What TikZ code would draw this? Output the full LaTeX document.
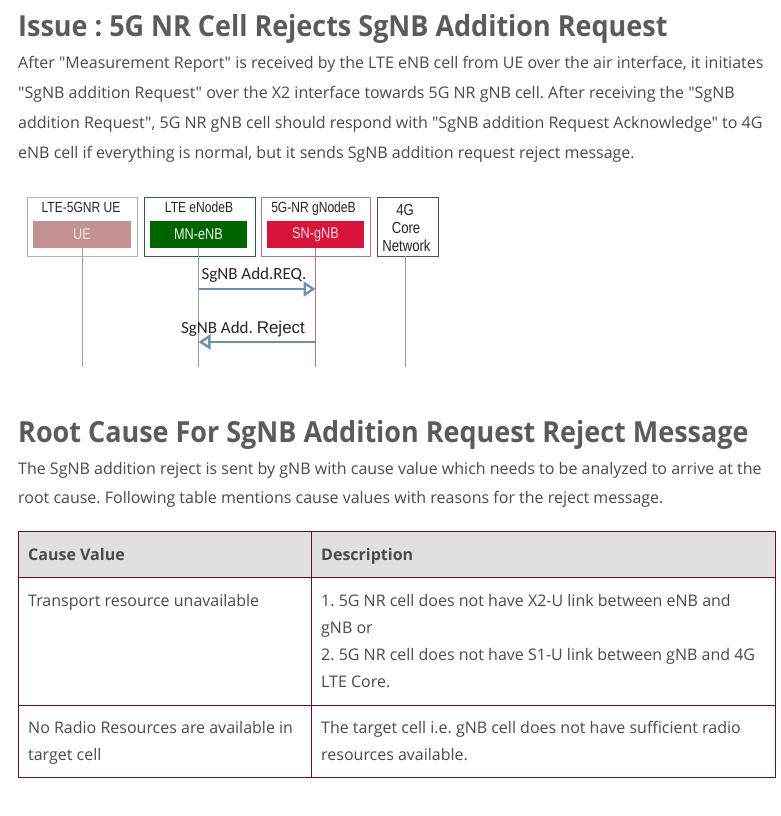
\documentclass[tikz,border=0pt]{standalone}
\usepackage{fontspec}
\setmainfont{Open Sans}
\newfontfamily\osans{Open Sans}
\newfontfamily\osanshead[FakeStretch=0.93]{Open Sans}
\newfontfamily\diafont[FakeStretch=0.82]{Liberation Sans}
\newfontfamily\calib{Carlito}
\newfontfamily\arialf{Liberation Sans}
\usetikzlibrary{arrows.meta}
\frenchspacing
\definecolor{txt}{HTML}{4A4A4A}
\definecolor{head}{HTML}{5B5B5B}
\definecolor{tborder}{HTML}{660A36}
\definecolor{thead}{HTML}{E0E0E0}
\definecolor{uefill}{HTML}{C49191}
\definecolor{enbfill}{HTML}{006400}
\definecolor{gnbfill}{HTML}{D8143C}
\definecolor{uebord}{HTML}{B4B4B4}
\definecolor{enbbord}{HTML}{2F5E3E}
\definecolor{gnbbord}{HTML}{C07080}
\definecolor{corebord}{HTML}{505050}
\definecolor{msg}{HTML}{6F8FAF}
\definecolor{enbline}{HTML}{80A8A0}
\definecolor{gnbline}{HTML}{D07080}
\begin{document}
\begin{tikzpicture}[x=1pt,y=-1pt,
  heading/.style={anchor=base west, inner sep=0pt, font=\osanshead\fontsize{29}{34}\bfseries\selectfont, text=head},
  body/.style={anchor=base west, inner sep=0pt, font=\osans\fontsize{16}{19}\selectfont, text=txt},
  thtext/.style={anchor=base west, inner sep=0pt, font=\osans\fontsize{16}{19}\bfseries\selectfont, text=txt},
  outerbox/.style={draw, line width=1pt, inner sep=0pt},
  innerbox/.style={inner sep=0pt, font=\diafont\fontsize{15.5}{17}\selectfont},
  boxtitle/.style={anchor=base, inner sep=0pt, font=\diafont\fontsize{14.7}{16}\selectfont, text=black!85},
  coretitle/.style={anchor=base, inner sep=0pt, font=\diafont\fontsize{16}{18}\selectfont, text=black!85},
  life/.style={line width=1pt},
  msgarrow/.style={draw=msg, line width=2.4pt, -{Triangle[open, length=12pt, width=15pt]}},
  msglabel/.style={anchor=base, inner sep=0pt, text=black!85}
]
\useasboundingbox (0,0) rectangle (780,816);
\fill[white] (0,0) rectangle (780,816);

% ---- Headings and paragraphs
\node[heading] (h1) at (18,37) {Issue : 5G NR Cell Rejects SgNB Addition Request};
\node[body] (p1) at (18,68) {After "Measurement Report" is received by the LTE eNB cell from UE over the air interface, it initiates};
\node[body] (p2) at (18,98) {"SgNB addition Request" over the X2 interface towards 5G NR gNB cell. After receiving the "SgNB};
\node[body] (p3) at (18,128) {addition Request", 5G NR gNB cell should respond with "SgNB addition Request Acknowledge" to 4G};
\node[body] (p4) at (18,158) {eNB cell if everything is normal, but it sends SgNB addition request reject message.};

% ---- Diagram
\node[outerbox, draw=uebord, minimum width=110pt, minimum height=59pt] (uebox) at (82,226.5) {};
\node[outerbox, draw=enbbord, minimum width=111pt, minimum height=59pt] (enbbox) at (199.5,226.5) {};
\node[outerbox, draw=gnbbord, minimum width=109pt, minimum height=59pt] (gnbbox) at (315.5,226.5) {};
\node[outerbox, draw=corebord, minimum width=61pt, minimum height=59pt] (corebox) at (407.5,226.5) {};

\node[innerbox, fill=uefill, text=uefill!25, minimum width=98pt, minimum height=27pt] (ue) at (82,234.5) {UE};
\node[innerbox, fill=enbfill, text=green!8, minimum width=97pt, minimum height=27pt] (enb) at (198.5,234.5) {MN-eNB};
\node[innerbox, fill=gnbfill, text=gnbfill!15, minimum width=97pt, minimum height=27pt] (gnb) at (315.5,234.5) {SN-gNB};

\node[boxtitle] (uet) at (81,212) {LTE-5GNR UE};
\node[boxtitle] (enbt) at (199,212) {LTE eNodeB};
\node[boxtitle] (gnbt) at (313.5,212) {5G-NR gNodeB};
\node[coretitle] (coret) at (405,215) {4G};
\node[coretitle] (coret2) at (406,233) {Core};
\node[coretitle] (coret3) at (406.5,251) {Network};

\coordinate (ueEnd) at (82,367);
\coordinate (enbEnd) at (198.5,367);
\coordinate (gnbEnd) at (315.5,367);
\coordinate (coreTop) at (405,256);
\coordinate (coreEnd) at (405,367);
\draw[life, draw=uefill] (ue.south) -- (ueEnd);
\draw[life, draw=enbline] (enb.south) -- (enbEnd);
\draw[life, draw=gnbline] (gnb.south) -- (gnbEnd);
\draw[life, draw=black!40] (coreTop) -- (coreEnd);

\coordinate (reqA) at (198.5,289);
\coordinate (reqB) at (315.5,289);
\coordinate (rejA) at (315.5,342);
\coordinate (rejB) at (198.5,342);
\draw[msgarrow] (reqA) -- (reqB);
\draw[msgarrow] (rejA) -- (rejB);
\node[msglabel, font=\calib\fontsize{17}{19}\selectfont] (reql) at (254,279) {SgNB Add.REQ.};
\node[msglabel, font=\calib\fontsize{17}{19}\selectfont] (rejl) at (243,333) {SgNB Add. {\arialf\fontsize{17}{19}\selectfont Reject}};

% ---- Second section
\node[heading] (h2) at (18,442) {Root Cause For SgNB Addition Request Reject Message};
\node[body] (q1) at (18,474) {The SgNB addition reject is sent by gNB with cause value which needs to be analyzed to arrive at the};
\node[body] (q2) at (18,503) {root cause. Following table mentions cause values with reasons for the reject message.};

% ---- Table
\fill[thead] (18,531) rectangle (775,577);
\draw[tborder, line width=1pt] (18,531) rectangle (775,777);
\draw[tborder, line width=1pt] (18,577) -- (775,577);
\draw[tborder, line width=1pt] (18,705) -- (775,705);
\draw[tborder, line width=1pt] (311,531) -- (311,777);

\node[thtext] (c1h) at (28,560) {Cause Value};
\node[thtext] (c2h) at (321,560) {Description};
\node[body] (r1c1) at (28,606) {Transport resource unavailable};
\node[body] (r1l1) at (321,606) {1. 5G NR cell does not have X2-U link between eNB and};
\node[body] (r1l2) at (321,633) {gNB or};
\node[body] (r1l3) at (321,660) {2. 5G NR cell does not have S1-U link between gNB and 4G};
\node[body] (r1l4) at (321,687) {LTE Core.};
\node[body] (r2c1) at (28,733) {No Radio Resources are available in};
\node[body] (r2c1b) at (28,760) {target cell};
\node[body] (r2l1) at (321,733) {The target cell i.e. gNB cell does not have sufficient radio};
\node[body] (r2l2) at (321,760) {resources available.};
\end{tikzpicture}
\end{document}
